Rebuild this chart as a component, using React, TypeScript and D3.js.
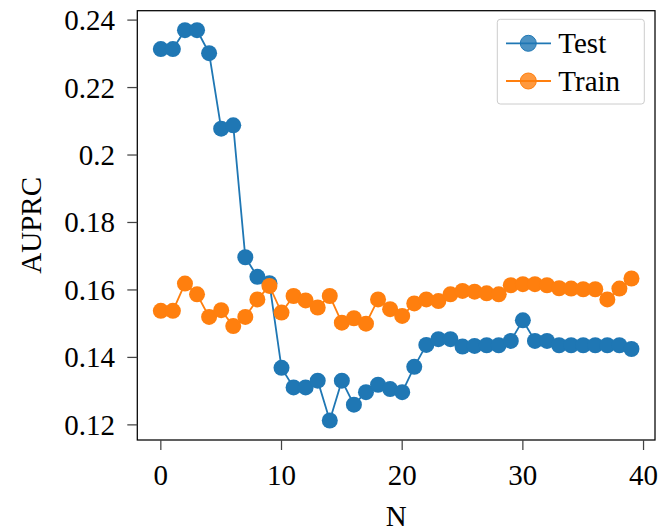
import React from "react";
import * as d3 from "d3";

const N: number[] = d3.range(40);
const testValues: number[] = [
  0.2314, 0.2314, 0.2370, 0.2370, 0.2302, 0.2078, 0.2088, 0.1697, 0.1639, 0.1620,
  0.1369, 0.1311, 0.1311, 0.1331, 0.1213, 0.1331, 0.1260, 0.1297, 0.1319, 0.1306,
  0.1297, 0.1372, 0.1437, 0.1454, 0.1454, 0.1432, 0.1434, 0.1436, 0.1436, 0.1449,
  0.1510, 0.1449, 0.1449, 0.1436, 0.1436, 0.1436, 0.1436, 0.1436, 0.1436, 0.1425,
];
const trainValues: number[] = [
  0.1538, 0.1538, 0.1619, 0.1587, 0.1520, 0.1540, 0.1493, 0.1520, 0.1572, 0.1612,
  0.1533, 0.1582, 0.1569, 0.1548, 0.1582, 0.1503, 0.1516, 0.1500, 0.1572, 0.1543,
  0.1523, 0.1560, 0.1572, 0.1567, 0.1587, 0.1597, 0.1595, 0.1590, 0.1587, 0.1614,
  0.1617, 0.1617, 0.1614, 0.1605, 0.1604, 0.1602, 0.1602, 0.1572, 0.1604, 0.1634,
];
const xTicks: number[] = [0, 10, 20, 30, 40];
const yTicks: number[] = [0.12, 0.14, 0.16, 0.18, 0.2, 0.22, 0.24];
const yTickLabels: string[] = ["0.12", "0.14", "0.16", "0.18", "0.2", "0.22", "0.24"];
const seriesNames: string[] = ["Test", "Train"];
const seriesColors: string[] = ["#1f77b4", "#ff7f0e"];

const W = 660;
const H = 531;
const left = 137.3;
const right = 655;
const top = 10.7;
const bottom = 440;
const FONT = "'Liberation Serif', 'Times New Roman', serif";
const FS = 29;

export default function App() {
  const xMin = d3.min(N)!;
  const xMax = d3.max(N)!;
  const xm = (xMax - xMin) * 0.05;
  const x = d3.scaleLinear().domain([xMin - xm, xMax + xm]).range([left, right]);
  const all = [...testValues, ...trainValues];
  const yMin = d3.min(all)!;
  const yMax = d3.max(all)!;
  const ym = (yMax - yMin) * 0.05;
  const y = d3.scaleLinear().domain([yMin - ym, yMax + ym]).range([bottom, top]);

  const line = d3
    .line<number>()
    .x((_, i) => x(N[i]))
    .y((d) => y(d));

  const series = [testValues, trainValues];

  return (
    <svg
      width={W}
      height={H}
      style={{ position: "absolute", left: 0, top: 0, background: "#fff" }}
      fontFamily={FONT}
    >
      <rect x={0} y={0} width={W} height={H} fill="#fff" />
      {series.map((vals, si) => (
        <g key={si}>
          <path d={line(vals) || ""} fill="none" stroke={seriesColors[si]} strokeWidth={1.8} />
          {vals.map((v, i) => (
            <circle key={i} cx={x(N[i])} cy={y(v)} r={8} fill={seriesColors[si]} />
          ))}
        </g>
      ))}
      {/* spines */}
      <rect
        x={left}
        y={top}
        width={right - left}
        height={bottom - top}
        fill="none"
        stroke="#000"
        strokeWidth={1.25}
      />
      {/* x ticks */}
      {xTicks.map((t) => (
        <g key={t}>
          <line x1={x(t)} x2={x(t)} y1={bottom} y2={bottom + 10} stroke="#444" strokeWidth={1.25} />
          <text x={x(t)} y={485} textAnchor="middle" fontSize={FS} fill="#000">
            {t}
          </text>
        </g>
      ))}
      {/* y ticks */}
      {yTicks.map((t, i) => (
        <g key={t}>
          <line x1={left - 10} x2={left} y1={y(t)} y2={y(t)} stroke="#444" strokeWidth={1.25} />
          <text x={115} y={y(t) + 10} textAnchor="end" fontSize={FS} fill="#000">
            {yTickLabels[i]}
          </text>
        </g>
      ))}
      <text x={(left + right) / 2} y={526} textAnchor="middle" fontSize={FS} fill="#000">
        N
      </text>
      <text
        transform={`translate(41, ${(top + bottom) / 2}) rotate(-90)`}
        textAnchor="middle"
        fontSize={FS}
        fill="#000"
      >
        AUPRC
      </text>
      {/* legend */}
      <rect x={497.3} y={19.3} width={147} height={84.7} rx={3} fill="#fff" fillOpacity={0.8} stroke="#cccccc" strokeWidth={1} />
      {seriesNames.map((name, i) => {
        const ly = 43.3 + i * 37.7;
        return (
          <g key={name}>
            <line x1={506} x2={551} y1={ly} y2={ly} stroke={seriesColors[i]} strokeWidth={1.8} />
            <circle cx={528.3} cy={ly} r={8} fill={seriesColors[i]} fillOpacity={0.8} stroke={seriesColors[i]} strokeWidth={1} />
            <text x={558.3} y={ly + 10} fontSize={FS} fill="#000">
              {name}
            </text>
          </g>
        );
      })}
    </svg>
  );
}
